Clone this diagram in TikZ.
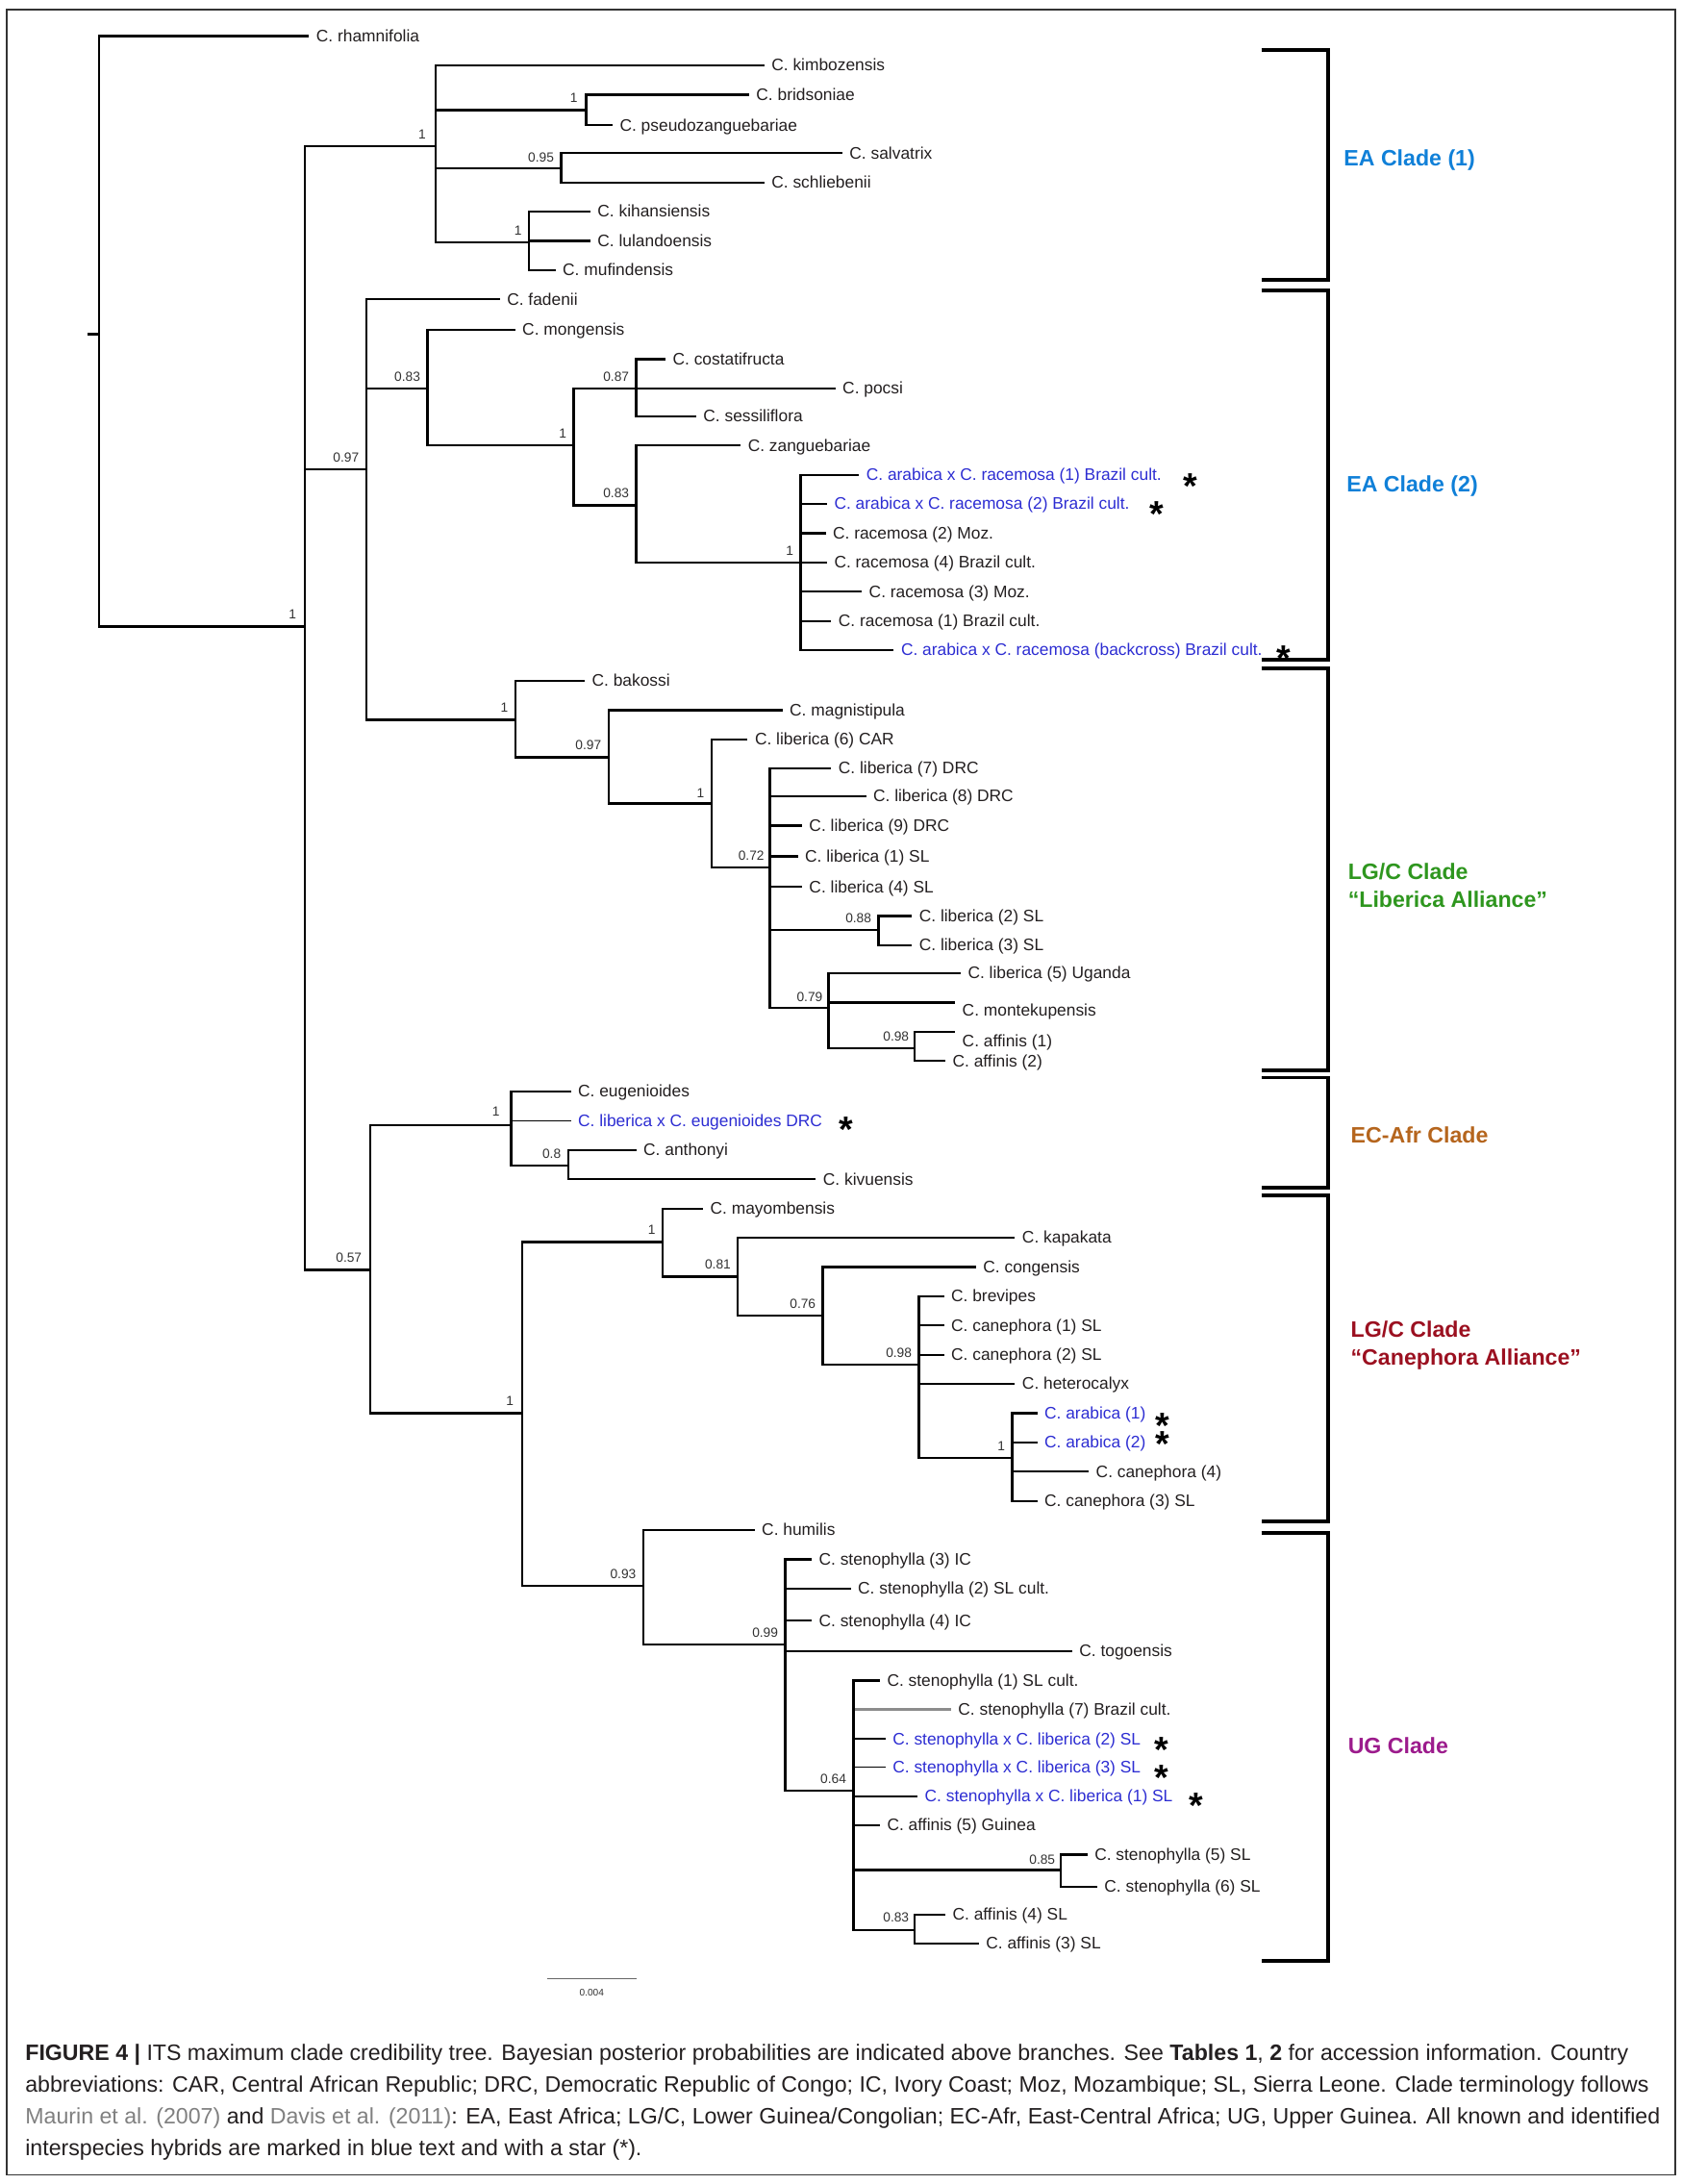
\documentclass[tikz,border=0pt]{standalone}
\usepackage{fontspec}
\setmainfont{Liberation Sans}
\definecolor{hyb}{RGB}{45,45,210}
\definecolor{eab}{RGB}{16,128,216}
\definecolor{lgr}{RGB}{46,150,30}
\definecolor{ecb}{RGB}{181,101,29}
\definecolor{cnr}{RGB}{155,16,32}
\definecolor{ugp}{RGB}{156,27,140}
\definecolor{ink}{RGB}{35,31,32}
\definecolor{refg}{RGB}{128,128,128}
\begin{document}
\begin{tikzpicture}[x=1pt,y=-1pt,
  leaf/.style={anchor=west, inner xsep=5pt, inner ysep=0pt, text height=8pt, text depth=0pt, font=\fontsize{12}{12}\selectfont, text=ink},
  hybl/.style={leaf, text=hyb},
  sup/.style={anchor=south east, inner sep=0pt, font=\fontsize{9.5}{9.5}\selectfont, text=black!80},
  br/.style={line width=1.6pt, line join=miter},
  thinbr/.style={line width=0.6pt},
  greybr/.style={line width=2.2pt, black!45},
  starnode/.style={anchor=base, inner sep=0pt, font=\fontsize{26}{26}\bfseries\selectfont},
  clade/.style={anchor=west, align=left, inner sep=0pt, font=\fontsize{16}{20}\bfseries\selectfont},
  bracket/.style={line width=2.6pt, line join=miter},
  capline/.style={anchor=base west, inner sep=0pt, font=\fontsize{16}{16}\selectfont, text=ink}
]
\useasboundingbox (0,0) rectangle (1208,1568.6);
\draw[line width=1.2pt, black!80] (5,7) rectangle (1203,1562);

% ---------- leaves ----------
\node[leaf] (rham) at (222,26) {C. rhamnifolia};
\node[leaf] (kimb) at (549,47) {C. kimbozensis};
\node[leaf] (brid) at (538,68) {C. bridsoniae};
\node[leaf] (pseu) at (440,90) {C. pseudozanguebariae};
\node[leaf] (salv) at (605,110) {C. salvatrix};
\node[leaf] (schl) at (549,131) {C. schliebenii};
\node[leaf] (kiha) at (424,152) {C. kihansiensis};
\node[leaf] (lula) at (424,173) {C. lulandoensis};
\node[leaf] (mufi) at (399,194) {C. mufindensis};
\node[leaf] (fade) at (359,215) {C. fadenii};
\node[leaf] (mong) at (370,237) {C. mongensis};
\node[leaf] (cost) at (478,258) {C. costatifructa};
\node[leaf] (pocs) at (600,279) {C. pocsi};
\node[leaf] (sess) at (500,299) {C. sessiliflora};
\node[leaf] (zang) at (532,320) {C. zanguebariae};
\node[hybl] (arc1) at (617,341) {C. arabica x C. racemosa (1) Brazil cult.};
\node[hybl] (arc2) at (594,362) {C. arabica x C. racemosa (2) Brazil cult.};
\node[leaf] (rac2) at (593,383) {C. racemosa (2) Moz.};
\node[leaf] (rac4) at (594,404) {C. racemosa (4) Brazil cult.};
\node[leaf] (rac3) at (619,425) {C. racemosa (3) Moz.};
\node[leaf] (rac1) at (597,446) {C. racemosa (1) Brazil cult.};
\node[hybl] (arcb) at (642,467) {C. arabica x C. racemosa (backcross) Brazil cult.};
\node[leaf] (bako) at (420,489) {C. bakossi};
\node[leaf] (magn) at (562,510) {C. magnistipula};
\node[leaf] (lib6) at (537,531) {C. liberica (6) CAR};
\node[leaf] (lib7) at (597,552) {C. liberica (7) DRC};
\node[leaf] (lib8) at (622,572) {C. liberica (8) DRC};
\node[leaf] (lib9) at (576,593) {C. liberica (9) DRC};
\node[leaf] (lib1) at (573,615) {C. liberica (1) SL};
\node[leaf] (lib4) at (576,637) {C. liberica (4) SL};
\node[leaf] (lib2) at (655,658) {C. liberica (2) SL};
\node[leaf] (lib3) at (655,679) {C. liberica (3) SL};
\node[leaf] (lib5) at (690,699) {C. liberica (5) Uganda};
\node[leaf] (mont) at (686,726) {C. montekupensis};
\node[leaf] (aff1) at (686,748) {C. affinis (1)};
\node[leaf] (aff2) at (679,762) {C. affinis (2)};
\node[leaf] (euge) at (410,784) {C. eugenioides};
\node[hybl] (libe) at (410,805) {C. liberica x C. eugenioides DRC};
\node[leaf] (anth) at (457,826) {C. anthonyi};
\node[leaf] (kivu) at (586,847) {C. kivuensis};
\node[leaf] (mayo) at (505,868) {C. mayombensis};
\node[leaf] (kapa) at (729,889) {C. kapakata};
\node[leaf] (cong) at (701,910) {C. congensis};
\node[leaf] (brev) at (678,931) {C. brevipes};
\node[leaf] (can1) at (678,952) {C. canephora (1) SL};
\node[leaf] (can2) at (678,973) {C. canephora (2) SL};
\node[leaf] (hete) at (729,994) {C. heterocalyx};
\node[hybl] (ara1) at (745,1015) {C. arabica (1)};
\node[hybl] (ara2) at (745,1036) {C. arabica (2)};
\node[leaf] (can4) at (782,1057) {C. canephora (4)};
\node[leaf] (can3) at (745,1078) {C. canephora (3) SL};
\node[leaf] (humi) at (542,1099) {C. humilis};
\node[leaf] (st3) at (583,1120) {C. stenophylla (3) IC};
\node[leaf] (st2) at (611,1141) {C. stenophylla (2) SL cult.};
\node[leaf] (st4) at (583,1164) {C. stenophylla (4) IC};
\node[leaf] (togo) at (770,1186) {C. togoensis};
\node[leaf] (st1) at (632,1207) {C. stenophylla (1) SL cult.};
\node[leaf] (st7) at (683,1228) {C. stenophylla (7) Brazil cult.};
\node[hybl] (sl2) at (636,1249) {C. stenophylla x C. liberica (2) SL};
\node[hybl] (sl3) at (636,1269) {C. stenophylla x C. liberica (3) SL};
\node[hybl] (sl1) at (659,1290) {C. stenophylla x C. liberica (1) SL};
\node[leaf] (af5) at (632,1311) {C. affinis (5) Guinea};
\node[leaf] (st5) at (781,1332) {C. stenophylla (5) SL};
\node[leaf] (st6) at (788,1355) {C. stenophylla (6) SL};
\node[leaf] (af4) at (679,1375) {C. affinis (4) SL};
\node[leaf] (af3) at (703,1396) {C. affinis (3) SL};

% ---------- stars ----------
\node[starnode] (s1) at (855,358) {*};
\node[starnode] (s2) at (831,378) {*};
\node[starnode] (s3) at (922,482) {*};
\node[starnode] (s4) at (608,820) {*};
\node[starnode] (s5) at (835,1033) {*};
\node[starnode] (s6) at (835,1046) {*};
\node[starnode] (s7) at (834,1266) {*};
\node[starnode] (s8) at (834,1286) {*};
\node[starnode] (s9) at (859,1306) {*};

% ---------- internal nodes ----------
\coordinate (rs) at (63,240);
\coordinate (root) at (71,240);
\coordinate (nA) at (219,450);
\coordinate (ea1) at (313,105);
\coordinate (n1b) at (421,79);
\coordinate (n095) at (403,121);
\coordinate (n1k) at (380,174);
\coordinate (n097) at (263,337);
\coordinate (n083a) at (307,279);
\coordinate (n1c) at (412,320);
\coordinate (n087) at (457,279);
\coordinate (n083b) at (457,363);
\coordinate (n1r) at (575,404);
\coordinate (n1bak) at (370,517);
\coordinate (n097b) at (437,544);
\coordinate (n1l) at (511,577);
\coordinate (n072) at (553,623);
\coordinate (n088) at (631,668);
\coordinate (n079) at (595,724);
\coordinate (n098) at (657,753);
\coordinate (n057) at (266,912);
\coordinate (n1e) at (367,808);
\coordinate (n08) at (408,837);
\coordinate (n1big) at (375,1015);
\coordinate (n1m) at (476,892);
\coordinate (n081) at (530,917);
\coordinate (n076) at (591,945);
\coordinate (n098c) at (660,980);
\coordinate (n1a) at (727,1047);
\coordinate (n093) at (462,1139);
\coordinate (n099) at (564,1181);
\coordinate (n064) at (613,1286);
\coordinate (n085) at (762,1343);
\coordinate (n083c) at (657,1386);

% ---------- light branches first ----------
\draw[thinbr] (n1e) |- (libe.west);
\draw[thinbr] (n064) |- (sl3.west);
\draw[greybr] (n064) |- (st7.west);

% ---------- branches ----------
\draw[br] (rs) -- (root);
\draw[br] (root) |- (rham.west) (root) |- (nA);
\draw[br] (nA) |- (ea1) (nA) |- (n097) (nA) |- (n057);
\draw[br] (ea1) |- (kimb.west) (ea1) |- (n1b) (ea1) |- (n095) (ea1) |- (n1k);
\draw[br] (n1b) |- (brid.west) (n1b) |- (pseu.west);
\draw[br] (n095) |- (salv.west) (n095) |- (schl.west);
\draw[br] (n1k) |- (kiha.west) (n1k) |- (lula.west) (n1k) |- (mufi.west);
\draw[br] (n097) |- (fade.west) (n097) |- (n083a) (n097) |- (n1bak);
\draw[br] (n083a) |- (mong.west) (n083a) |- (n1c);
\draw[br] (n1c) |- (n087) (n1c) |- (n083b);
\draw[br] (n087) |- (cost.west) (n087) |- (pocs.west) (n087) |- (sess.west);
\draw[br] (n083b) |- (zang.west) (n083b) |- (n1r);
\draw[br] (n1r) |- (arc1.west) (n1r) |- (arc2.west) (n1r) |- (rac2.west) (n1r) |- (rac4.west)
          (n1r) |- (rac3.west) (n1r) |- (rac1.west) (n1r) |- (arcb.west);
\draw[br] (n1bak) |- (bako.west) (n1bak) |- (n097b);
\draw[br] (n097b) |- (magn.west) (n097b) |- (n1l);
\draw[br] (n1l) |- (lib6.west) (n1l) |- (n072);
\draw[br] (n072) |- (lib7.west) (n072) |- (lib8.west) (n072) |- (lib9.west) (n072) |- (lib1.west)
          (n072) |- (lib4.west) (n072) |- (n088) (n072) |- (n079);
\draw[br] (n088) |- (lib2.west) (n088) |- (lib3.west);
\draw[br] (n079) |- (lib5.west) (n079) |- ([yshift=6pt]mont.west) (n079) |- (n098);
\draw[br] (n098) |- ([yshift=7pt]aff1.west) (n098) |- (aff2.west);
\draw[br] (n057) |- (n1e) (n057) |- (n1big);
\draw[br] (n1e) |- (euge.west) (n1e) |- (n08);
\draw[br] (n08) |- (anth.west) (n08) |- (kivu.west);
\draw[br] (n1big) |- (n1m) (n1big) |- (n093);
\draw[br] (n1m) |- (mayo.west) (n1m) |- (n081);
\draw[br] (n081) |- (kapa.west) (n081) |- (n076);
\draw[br] (n076) |- (cong.west) (n076) |- (n098c);
\draw[br] (n098c) |- (brev.west) (n098c) |- (can1.west) (n098c) |- (can2.west) (n098c) |- (hete.west) (n098c) |- (n1a);
\draw[br] (n1a) |- (ara1.west) (n1a) |- (ara2.west) (n1a) |- (can4.west) (n1a) |- (can3.west);
\draw[br] (n093) |- (humi.west) (n093) |- (n099);
\draw[br] (n099) |- (st3.west) (n099) |- (st2.west) (n099) |- (st4.west) (n099) |- (togo.west) (n099) |- (n064);
\draw[br] (n064) |- (st1.west) (n064) |- (sl2.west) (n064) |- (sl1.west) (n064) |- (af5.west)
          (n064) |- (n085) (n064) |- (n083c);
\draw[br] (n085) |- (st5.west) (n085) |- (st6.west);
\draw[br] (n083c) |- (af4.west) (n083c) |- (af3.west);

% ---------- support values ----------
\node[sup] (p1) at ([xshift=-6pt,yshift=5pt]nA) {1};
\node[sup] (p2) at ([xshift=-7pt,yshift=5pt]ea1) {1};
\node[sup] (p3) at ([xshift=-6pt,yshift=5pt]n1b) {1};
\node[sup] (p4) at ([xshift=-5pt,yshift=4pt]n095) {0.95};
\node[sup] (p5) at ([xshift=-5pt,yshift=5pt]n1k) {1};
\node[sup] (p6) at ([xshift=-5pt,yshift=5pt]n097) {0.97};
\node[sup] (p7) at ([xshift=-5pt,yshift=5pt]n083a) {0.83};
\node[sup] (p8) at ([xshift=-5pt,yshift=5pt]n1c) {1};
\node[sup] (p9) at ([xshift=-5pt,yshift=5pt]n087) {0.87};
\node[sup] (p10) at ([xshift=-5pt,yshift=5pt]n083b) {0.83};
\node[sup] (p11) at ([xshift=-5pt,yshift=5pt]n1r) {1};
\node[sup] (p12) at ([xshift=-5pt,yshift=5pt]n1bak) {1};
\node[sup] (p13) at ([xshift=-5pt,yshift=5pt]n097b) {0.97};
\node[sup] (p14) at ([xshift=-5pt,yshift=4pt]n1l) {1};
\node[sup] (p15) at ([xshift=-4pt,yshift=5pt]n072) {0.72};
\node[sup] (p16) at ([xshift=-5pt,yshift=5pt]n088) {0.88};
\node[sup] (p17) at ([xshift=-4pt,yshift=4pt]n079) {0.79};
\node[sup] (p18) at ([xshift=-4pt,yshift=5pt]n098) {0.98};
\node[sup] (p19) at ([xshift=-6pt,yshift=5pt]n057) {0.57};
\node[sup] (p20) at ([xshift=-8pt,yshift=6pt]n1e) {1};
\node[sup] (p21) at ([xshift=-5pt,yshift=5pt]n08) {0.8};
\node[sup] (p22) at ([xshift=-6pt,yshift=5pt]n1big) {1};
\node[sup] (p23) at ([xshift=-5pt,yshift=5pt]n1m) {1};
\node[sup] (p24) at ([xshift=-5pt,yshift=5pt]n081) {0.81};
\node[sup] (p25) at ([xshift=-5pt,yshift=5pt]n076) {0.76};
\node[sup] (p26) at ([xshift=-5pt,yshift=5pt]n098c) {0.98};
\node[sup] (p27) at ([xshift=-5pt,yshift=5pt]n1a) {1};
\node[sup] (p28) at ([xshift=-5pt,yshift=5pt]n093) {0.93};
\node[sup] (p29) at ([xshift=-5pt,yshift=5pt]n099) {0.99};
\node[sup] (p30) at ([xshift=-5pt,yshift=5pt]n064) {0.64};
\node[sup] (p31) at ([xshift=-4pt,yshift=4pt]n085) {0.85};
\node[sup] (p32) at ([xshift=-4pt,yshift=5pt]n083c) {0.83};

% ---------- clade brackets ----------
\draw[bracket] (906,36) -- (954,36) -- (954,201) -- (906,201);
\draw[bracket] (906,208.7) -- (954,208.7) -- (954,473.8) -- (906,473.8);
\draw[bracket] (906,480) -- (954,480) -- (954,768.7) -- (906,768.7);
\draw[bracket] (906,774) -- (954,774) -- (954,853) -- (906,853);
\draw[bracket] (906,858.6) -- (954,858.6) -- (954,1092.7) -- (906,1092.7);
\draw[bracket] (906,1101) -- (954,1101) -- (954,1408.5) -- (906,1408.5);

\node[clade, text=eab] (c1) at (965,115) {EA Clade (1)};
\node[clade, text=eab] (c2) at (967,349) {EA Clade (2)};
\node[clade, text=lgr] (c3) at (968,636) {LG/C Clade\\``Liberica Alliance''};
\node[clade, text=ecb] (c4) at (970,815) {EC-Afr Clade};
\node[clade, text=cnr] (c5) at (970,966) {LG/C Clade\\``Canephora Alliance''};
\node[clade, text=ugp] (c6) at (968,1254) {UG Clade};

% ---------- scale bar ----------
\coordinate (sb1) at (393,1421);
\coordinate (sb2) at (457,1421);
\draw[line width=1pt, black!60] (sb1) -- (sb2);
\node[inner sep=0pt, font=\fontsize{7}{7}\selectfont, text=black!80] (sbl) at (425,1431) {0.004};

% ---------- caption ----------
\node[capline] (cap1) at (18,1480) {\textbf{FIGURE 4} \textbf{|} ITS maximum clade credibility tree. Bayesian posterior probabilities are indicated above branches. See \textbf{Tables 1}, \textbf{2} for accession information. Country};
\node[capline] (cap2) at (18,1502.7) {abbreviations: CAR, Central African Republic; DRC, Democratic Republic of Congo; IC, Ivory Coast; Moz, Mozambique; SL, Sierra Leone. Clade terminology follows};
\node[capline] (cap3) at (18,1525.4) {\textcolor{refg}{Maurin et al. (2007)} and \textcolor{refg}{Davis et al. (2011)}: EA, East Africa; LG/C, Lower Guinea/Congolian; EC-Afr, East-Central Africa; UG, Upper Guinea. All known and identified};
\node[capline] (cap4) at (18,1548) {interspecies hybrids are marked in blue text and with a star (*).};
\end{tikzpicture}
\end{document}
